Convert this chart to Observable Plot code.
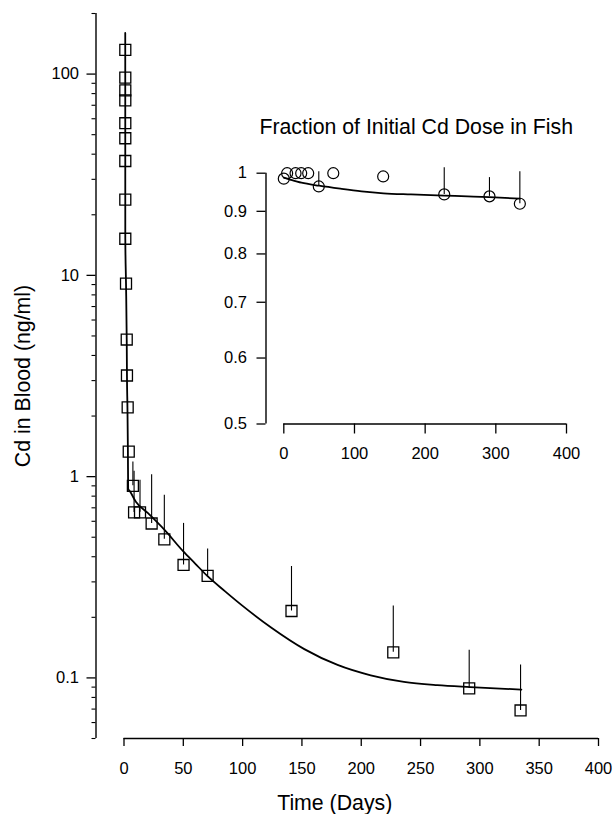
<!DOCTYPE html>
<html><head><meta charset="utf-8">
<script src="https://cdn.jsdelivr.net/npm/d3@7"></script>
<script src="https://cdn.jsdelivr.net/npm/@observablehq/plot@0.6"></script>
<style>
html,body{margin:0;padding:0;background:#fff;}
#wrap{position:relative;width:614px;height:814px;overflow:hidden;}
#wrap svg{position:absolute;left:0;top:0;}
</style></head><body><div id="wrap"></div>
<script>
// ---- Main panel: Cd in blood ----
const bloodDays   = [1.1,1.1,1.1,1.1,1.1,1.1,1.1,1.1,1.1,1.7,2.3,2.5,3.1,4.0, 7.5,8.5,13.5,23.3,34,50.2,70.5,141.2,227,291,334.3];
const bloodValues = [132,96,83,74,57,48,37,23.8,15.2,9.1,4.8,3.18,2.21,1.33, 0.90,0.664,0.665,0.585,0.488,0.364,0.321,0.215,0.134,0.0887,0.0689];
const bloodErrDays = [7.5,8.5,13.5,23.3,34,50.2,70.5,141.2,227,291,334.3];
const bloodErrLow  = [0.90,0.664,0.665,0.585,0.488,0.364,0.321,0.215,0.134,0.0887,0.0689];
const bloodErrHigh = [1.11,1.0,0.90,0.96,0.76,0.55,0.41,0.336,0.214,0.129,0.109];
const fitDays   = [1.05,1.1,1.7,2.3,2.5,2.9,3.3,3.5,5,10,20,34,50,60,70,85,100,124,152,180,208,236,264,292,335];
const fitValues = [160,15.2,9.1,4.8,3.18,2.21,1.33,0.87,0.845,0.75,0.66,0.545,0.425,0.37,0.322,0.27,0.228,0.178,0.139,0.116,0.103,0.0955,0.092,0.090,0.0875];
const mainXTicks = [0,50,100,150,200,250,300,350,400];
const mainYTicks = [0.1,1,10,100];
const mainYMinor = [0.05,0.06,0.07,0.08,0.09,0.2,0.3,0.4,0.5,0.6,0.7,0.8,0.9,2,3,4,5,6,7,8,9,20,30,40,50,60,70,80,90,200];
const mainXLabel = "Time (Days)";
const mainYLabel = "Cd in Blood (ng/ml)";

// ---- Inset: fraction of initial dose ----
const insetDays   = [0,4.7,16.6,24.6,34.5,49.5,70,140.6,227,291,334];
const insetValues = [0.985,1,1,1,1,0.964,1,0.991,0.943,0.938,0.919];
const insetErrDays = [49.5,227,291,334];
const insetErrLow  = [0.964,0.943,0.938,0.919];
const insetErrHigh = [0.989,1.0,0.973,0.989];
const insetFitDays   = [0,10,25,50,80,110,141,180,227,260,291,334];
const insetFitValues = [0.988,0.982,0.974,0.966,0.958,0.951,0.946,0.943,0.940,0.938,0.936,0.932];
const insetXTicks = [0,100,200,300,400];
const insetYTicks = [0.5,0.6,0.7,0.8,0.9,1];
const insetTitle = "Fraction of Initial Cd Dose in Fish";

const FONT = "'Liberation Sans', Arial, Helvetica, sans-serif";
const idx = n => d3.range(n);

const mainXMin = -23.6, mainYMin = 0.05, mainYMax = 200;
const main = Plot.plot({
  width: 614, height: 814,
  marginLeft: 95.5, marginRight: 16, marginTop: 13, marginBottom: 76,
  style: {fontFamily: FONT, fontSize: "16.5px", color: "#000", background: "transparent"},
  x: {type: "linear", domain: [mainXMin, 400]},
  y: {type: "log", domain: [mainYMin, mainYMax]},
  marks: [
    Plot.ruleY([mainYMin], {x1: 0, x2: 400, stroke: "#000", strokeWidth: 1.4}),
    Plot.ruleX([mainXMin], {y1: mainYMin, y2: mainYMax, stroke: "#000", strokeWidth: 1.4}),
    Plot.axisX(mainXTicks, {tickSize: 8, tickPadding: 16, strokeWidth: 1.3, label: null, tickFormat: d => String(d)}),
    Plot.axisY(mainYTicks, {tickSize: 9, tickPadding: 8, strokeWidth: 1.3, label: null, tickFormat: d => String(d)}),
    Plot.axisY(mainYMinor, {tickSize: 4, tickPadding: 8, strokeWidth: 1.1, label: null, tickFormat: () => ""}),
    Plot.ruleX(idx(bloodErrDays.length), {x: i => bloodErrDays[i], y1: i => bloodErrLow[i], y2: i => bloodErrHigh[i], stroke: "#000", strokeWidth: 1.1, insetBottom: 5.5}),
    Plot.dot(idx(bloodDays.length), {x: i => bloodDays[i], y: i => bloodValues[i], symbol: "square", r: 6.2, stroke: "#000", strokeWidth: 1.3, fill: "none"}),
    Plot.line(idx(fitDays.length), {x: i => fitDays[i], y: i => fitValues[i], stroke: "#000", strokeWidth: 1.8, curve: "monotone-x"}),
    Plot.text([mainXLabel], {frameAnchor: "bottom", text: d => d, dy: 64.6, dx: -12.5, fontSize: 21.3, textAnchor: "middle", lineAnchor: "middle", fill: "#000"}),
    Plot.text([mainYLabel], {frameAnchor: "left", text: d => d, dx: -73, rotate: -90, fontSize: 21.3, textAnchor: "middle", lineAnchor: "middle", fill: "#000"})
  ]
});

const inXMin = -25.2, inYMin = 0.5, inYMax = 1;
const inset = Plot.plot({
  width: 614, height: 814,
  marginLeft: 265.5, marginRight: 48, marginTop: 172.7, marginBottom: 390.5,
  style: {fontFamily: FONT, fontSize: "16.5px", color: "#000", background: "transparent"},
  x: {type: "linear", domain: [inXMin, 400]},
  y: {type: "log", domain: [inYMin, inYMax]},
  marks: [
    Plot.ruleY([inYMin], {x1: 0, x2: 400, stroke: "#000", strokeWidth: 1.4}),
    Plot.ruleX([inXMin], {y1: inYMin, y2: inYMax, stroke: "#000", strokeWidth: 1.4}),
    Plot.axisX(insetXTicks, {tickSize: 10, tickPadding: 13, strokeWidth: 1.3, label: null, tickFormat: d => String(d)}),
    Plot.axisY(insetYTicks, {tickSize: 9, tickPadding: 10, strokeWidth: 1.3, label: null, tickFormat: d => String(d)}),
    Plot.ruleX(idx(insetErrDays.length), {x: i => insetErrDays[i], y1: i => insetErrLow[i], y2: i => insetErrHigh[i], stroke: "#000", strokeWidth: 1.1, insetBottom: 5.5}),
    Plot.dot(idx(insetDays.length), {x: i => insetDays[i], y: i => insetValues[i], r: 5.5, stroke: "#000", strokeWidth: 1.2, fill: "none"}),
    Plot.line(idx(insetFitDays.length), {x: i => insetFitDays[i], y: i => insetFitValues[i], stroke: "#000", strokeWidth: 1.8, curve: "monotone-x"}),
    Plot.text([insetTitle], {frameAnchor: "top", text: d => d, dy: -46.3, fontSize: 21.3, textAnchor: "middle", lineAnchor: "middle", fill: "#000"})
  ]
});

const wrap = document.getElementById("wrap");
wrap.appendChild(main);
wrap.appendChild(inset);
</script>
</body></html>
